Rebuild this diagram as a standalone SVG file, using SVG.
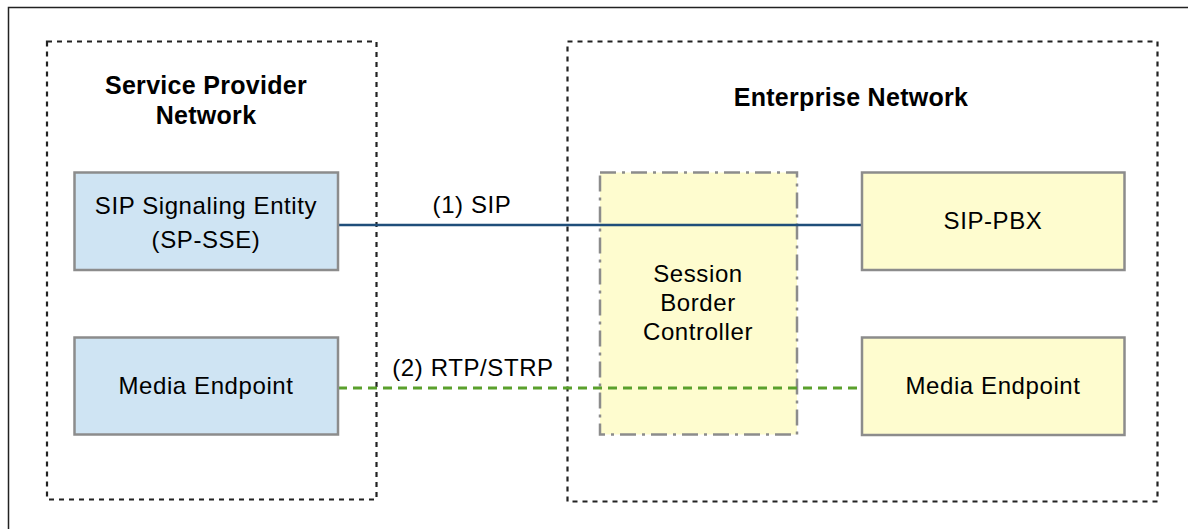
<svg xmlns="http://www.w3.org/2000/svg" width="1188" height="529" viewBox="0 0 1188 529">
<style>
text{font-family:"Liberation Sans",Arial,sans-serif;fill:#000;text-anchor:middle}
.title{font-size:25px;font-weight:bold;letter-spacing:0.3px}
.lbl{font-size:24px;letter-spacing:0.6px}
.zone{fill:none;stroke:#222;stroke-width:2.2;stroke-dasharray:5,5}
.blue{fill:#cfe4f3;stroke:#8c8c8c;stroke-width:2.5}
.yel{fill:#fefccf;stroke:#8c8c8c;stroke-width:2.5}
</style>
<rect x="0" y="0" width="1188" height="529" fill="#fff"/>
<rect x="8.5" y="7.5" width="1190" height="540" fill="none" stroke="#222" stroke-width="1.5"/>
<g id="sp-network">
<rect class="zone" x="47" y="41.5" width="329.5" height="458"/>
<text class="title" x="206" y="94">Service Provider</text>
<text class="title" x="206" y="124">Network</text>
</g>
<g id="ent-network">
<rect class="zone" x="567.5" y="41.5" width="590" height="460"/>
<text class="title" x="851" y="106">Enterprise Network</text>
</g>
<g id="sbc">
<rect x="600" y="172.5" width="197" height="262" fill="#fefccf" stroke="#8c8c8c" stroke-width="2.5" stroke-dasharray="16,6,3,6"/>
<text class="lbl" x="698" y="282">Session</text>
<text class="lbl" x="698" y="311">Border</text>
<text class="lbl" x="698" y="340">Controller</text>
</g>
<g id="connectors">
<line x1="338" y1="225" x2="862" y2="225" stroke="#1f4e7a" stroke-width="2.5"/>
<line x1="338" y1="388" x2="862" y2="388" stroke="#5aa02c" stroke-width="3" stroke-dasharray="9,6"/>
<text class="lbl" x="472" y="213">(1) SIP</text>
<text class="lbl" x="473" y="376">(2) RTP/STRP</text>
</g>
<g id="sp-sse">
<rect class="blue" x="74.5" y="172.5" width="263.5" height="97.5"/>
<text class="lbl" x="206" y="214">SIP Signaling Entity</text>
<text class="lbl" x="206" y="248">(SP-SSE)</text>
</g>
<g id="sp-media">
<rect class="blue" x="74.5" y="337.5" width="263.5" height="97"/>
<text class="lbl" x="206" y="394">Media Endpoint</text>
</g>
<g id="sip-pbx">
<rect class="yel" x="862" y="172.5" width="262.5" height="97.5"/>
<text class="lbl" x="993" y="229">SIP-PBX</text>
</g>
<g id="ent-media">
<rect class="yel" x="862" y="337.5" width="262.5" height="97.5"/>
<text class="lbl" x="993" y="394">Media Endpoint</text>
</g>
</svg>
